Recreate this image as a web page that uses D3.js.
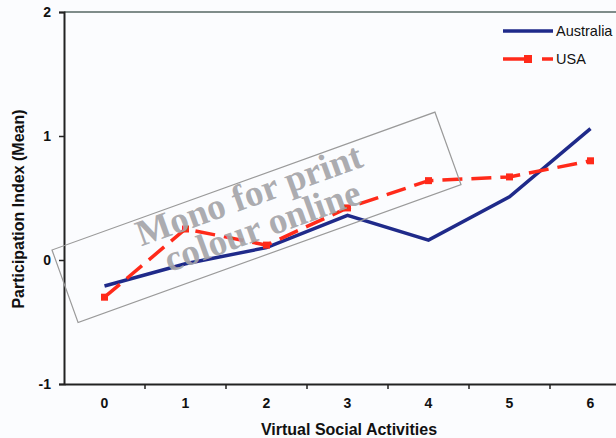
<!DOCTYPE html>
<html><head><meta charset="utf-8">
<script src="https://cdn.jsdelivr.net/npm/d3@7"></script>
<style>body{margin:0;background:#fbfcfe}svg{display:block}</style>
</head><body>
<svg id="c" width="616" height="438"></svg>
<script>
const categories = ["0","1","2","3","4","5","6"];
const australia = [-0.21, -0.03, 0.10, 0.36, 0.16, 0.51, 1.06];
const usa = [-0.30, 0.25, 0.12, 0.42, 0.64, 0.67, 0.80];
const yTicks = [-1, 0, 1, 2];
const seriesNames = ["Australia", "USA"];

(function(){
const svg = d3.select("#c");
const mLeft = 64, mTop = 12, mBottom = 384;
const x = d3.scaleBand().domain(categories).range([mLeft, mLeft + 81 * 7]);
const y = d3.scaleLinear().domain([-1, 2]).range([mBottom, mTop]);
const sans = "Liberation Sans, Arial";

svg.append("rect").attr("width",616).attr("height",438).attr("fill","#fbfcfe");

// top border
svg.append("line").attr("x1",mLeft).attr("x2",616).attr("y1",y(2)).attr("y2",y(2))
  .attr("stroke","#7f8c8a").attr("stroke-width",2);

// y axis
const ya = svg.append("g").attr("transform",`translate(${mLeft},0)`)
  .call(d3.axisLeft(y).tickValues(yTicks).tickSize(5).tickFormat(d => String(d)));
ya.select(".domain").attr("stroke","#222").attr("stroke-width",2);
ya.selectAll(".tick line").attr("stroke","#222").attr("stroke-width",1.5);
ya.selectAll("text").attr("font-family",sans).attr("font-weight","bold")
  .attr("font-size",14).attr("fill","#111").attr("x",-13);

// x axis
const xa = svg.append("g").attr("transform",`translate(0,${mBottom})`)
  .call(d3.axisBottom(x).tickSize(0).tickPadding(14));
xa.select(".domain").attr("stroke","#222").attr("stroke-width",2);
xa.selectAll("text").attr("font-family",sans).attr("font-weight","bold")
  .attr("font-size",14).attr("fill","#111");
// tick marks at band boundaries
svg.append("g").selectAll("line").data(categories.slice(1)).join("line")
  .attr("x1",d=>x(d)).attr("x2",d=>x(d)).attr("y1",mBottom).attr("y2",mBottom+5)
  .attr("stroke","#222").attr("stroke-width",1.5);

// axis titles
svg.append("text").attr("transform",`translate(24,${(mTop+mBottom)/2+11}) rotate(-90)`)
  .attr("text-anchor","middle").attr("font-family",sans).attr("font-weight","bold")
  .attr("font-size",16).attr("fill","#111").text("Participation Index (Mean)");
svg.append("text").attr("x",349).attr("y",435).attr("text-anchor","middle")
  .attr("font-family",sans).attr("font-weight","bold")
  .attr("font-size",16).attr("fill","#111").text("Virtual Social Activities");

const cx = d => x(d) + x.bandwidth()/2;
const line = d3.line().x((v,i)=>cx(categories[i])).y(v=>y(v));

svg.append("path").attr("d",line(australia)).attr("fill","none")
  .attr("stroke","#1f2a8a").attr("stroke-width",3.5).attr("stroke-linejoin","miter");
svg.append("path").attr("d",line(usa)).attr("fill","none")
  .attr("stroke","#ff2a1a").attr("stroke-width",3.5).attr("stroke-dasharray","20,9");
svg.append("g").selectAll("rect").data(usa).join("rect")
  .attr("x",(v,i)=>cx(categories[i])-3.5).attr("y",v=>y(v)-3.5).attr("width",7).attr("height",7)
  .attr("fill","#ff2a1a");

// legend
const lg = svg.append("g");
lg.append("line").attr("x1",503).attr("x2",553).attr("y1",31).attr("y2",31)
  .attr("stroke","#1f2a8a").attr("stroke-width",3.5);
lg.append("text").attr("x",556).attr("y",36).attr("font-family",sans)
  .attr("font-size",14.5).attr("fill","#111").text(seriesNames[0]);
lg.append("line").attr("x1",503).attr("x2",530).attr("y1",59).attr("y2",59)
  .attr("stroke","#ff2a1a").attr("stroke-width",3.5);
lg.append("line").attr("x1",542).attr("x2",553).attr("y1",59).attr("y2",59)
  .attr("stroke","#ff2a1a").attr("stroke-width",3.5);
lg.append("rect").attr("x",524).attr("y",55).attr("width",8).attr("height",8).attr("fill","#ff2a1a");
lg.append("text").attr("x",556).attr("y",64).attr("font-family",sans)
  .attr("font-size",14.5).attr("fill","#111").text(seriesNames[1]);

// watermark
const wm = svg.append("g").attr("transform","translate(52,250) rotate(-19.8)");
wm.append("rect").attr("x",0).attr("y",0).attr("width",407).attr("height",77)
  .attr("fill","none").attr("stroke","#9a9a9a").attr("stroke-width",1.2);
wm.append("text").attr("x",204).attr("y",27).attr("text-anchor","middle")
  .attr("font-family","Liberation Serif, Times New Roman").attr("font-weight","bold")
  .attr("font-size",37).attr("fill","#a4a4a8").attr("fill-opacity",0.92).text("Mono for print");
wm.append("text").attr("x",206).attr("y",61).attr("text-anchor","middle")
  .attr("font-family","Liberation Serif, Times New Roman").attr("font-weight","bold")
  .attr("font-size",37).attr("fill","#a4a4a8").attr("fill-opacity",0.92).text("colour online");
})();
</script>
</body></html>
